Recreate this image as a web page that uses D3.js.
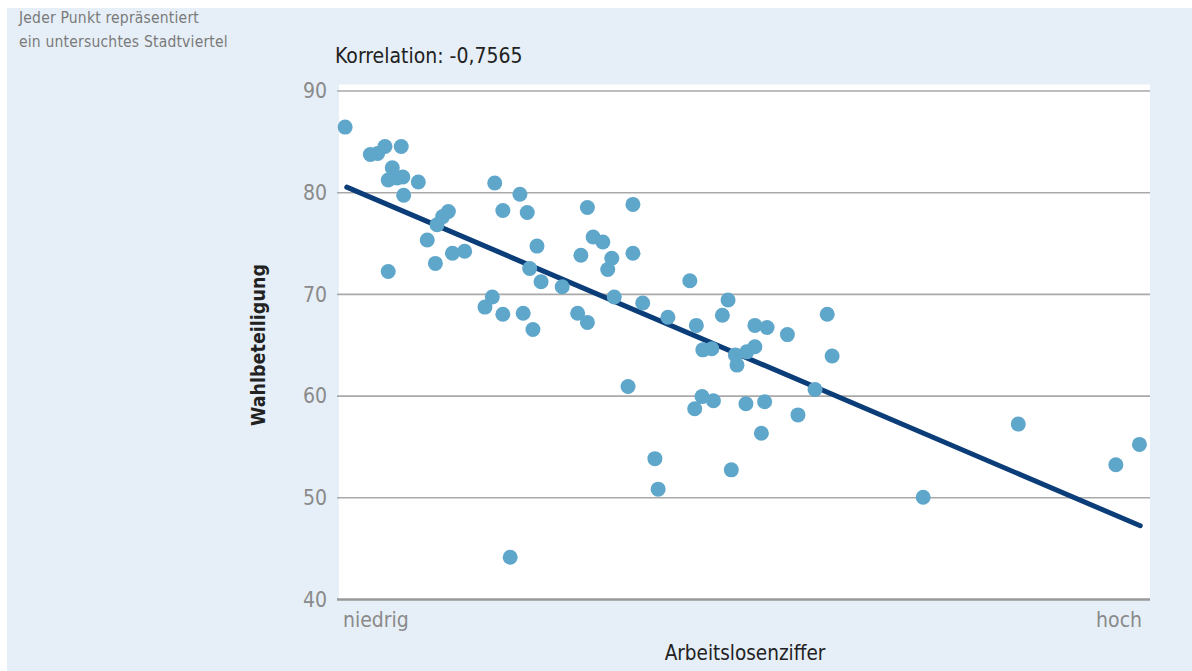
<!DOCTYPE html>
<html><head><meta charset="utf-8">
<script src="https://cdn.jsdelivr.net/npm/d3@7"></script>
<style>
html,body{margin:0;padding:0;background:#fff;}
svg{display:block;}
text{font-family:"DejaVu Sans Condensed","DejaVu Sans","Liberation Sans Narrow",sans-serif;}
</style></head>
<body>
<script>
// Arbeitslosenziffer (relative position 0 = niedrig, 100 = hoch) and Wahlbeteiligung (%)
const unemployment = [1.0,4.1,5.0,5.9,7.9,6.8,6.3,8.1,7.4,10.0,8.2,13.7,13.0,12.3,11.1,14.2,15.7,12.1,6.3,19.4,22.5,20.4,23.4,24.6,23.7,25.1,27.7,19.1,18.2,20.4,22.9,24.1,30.8,36.4,31.5,32.7,30.0,33.8,33.3,36.4,34.1,37.6,29.6,30.8,40.7,43.4,44.2,45.0,46.1,35.8,48.1,47.4,51.4,52.9,55.4,60.3,49.0,49.2,50.4,51.4,60.9,58.8,44.9,44.0,46.3,50.3,52.6,56.7,52.2,48.5,39.1,39.5,21.3,72.1,83.8,95.8,98.7];
const turnout = [86.4,83.7,83.8,84.5,84.5,82.4,81.2,81.5,81.4,81.0,79.7,78.1,77.6,76.8,75.3,74.0,74.2,73.0,72.2,80.9,79.8,78.2,78.0,74.7,72.5,71.2,70.7,69.7,68.7,68.0,68.1,66.5,78.5,78.8,75.6,75.1,73.8,73.5,72.4,74.0,69.7,69.1,68.1,67.2,67.7,71.3,66.9,64.5,64.6,60.9,69.4,67.9,66.9,66.7,66.0,68.0,64.0,63.0,64.3,64.8,63.9,60.6,59.9,58.7,59.5,59.2,59.4,58.1,56.3,52.7,53.8,50.8,44.1,50.0,57.2,53.2,55.2];
const trendX = [1.2, 98.8];
const trendY = [80.5, 47.2];
const yTicks = [40,50,60,70,80,90];
const xLabels = ["niedrig","hoch"];
const title = "Korrelation: -0,7565";
const note = ["Jeder Punkt repräsentiert","ein untersuchtes Stadtviertel"];
const yTitle = "Wahlbeteiligung";
const xTitle = "Arbeitslosenziffer";

const W = 1192, H = 671;
const svg = d3.select("body").append("svg").attr("width", W).attr("height", H);
svg.append("rect").attr("x",0).attr("y",0).attr("width",W).attr("height",H).attr("fill","#fff");
svg.append("rect").attr("x",7).attr("y",8).attr("width",W-7).attr("height",H-8).attr("fill","#e6eff7");

const x = d3.scaleLinear().domain([0,100]).range([337,1150]);
const y = d3.scaleLinear().domain([40,90]).range([599,90.5]);

svg.append("rect").attr("x",x(0)+2).attr("y",y(90)-6).attr("width",x(100)-x(0)-2).attr("height",y(40)-y(90)+6).attr("fill","#fff");

const yAxis = d3.axisLeft(y).tickValues(yTicks).tickSize(-(x(100)-x(0))).tickPadding(10).tickFormat(d3.format("d"));
const gy = svg.append("g").attr("transform",`translate(${x(0)},0)`).call(yAxis);
gy.select(".domain").remove();
gy.selectAll(".tick line").attr("stroke","#a9a9a9").attr("stroke-width",1.6);
gy.selectAll(".tick").filter(d=>d===40).select("line").attr("stroke","#999").attr("stroke-width",2.4);
gy.selectAll(".tick text").attr("fill","#8a8a8a").attr("font-size",21).attr("x",-10).attr("dy","0.35em");

// trend line
svg.append("line")
  .attr("x1",x(trendX[0])).attr("y1",y(trendY[0]))
  .attr("x2",x(trendX[1])).attr("y2",y(trendY[1]))
  .attr("stroke","#0b3d78").attr("stroke-width",5).attr("stroke-linecap","round");

const pts = unemployment.map((u,i)=>({u, t:turnout[i]}));
svg.append("g").selectAll("circle").data(pts).join("circle")
  .attr("cx",d=>x(d.u)).attr("cy",d=>y(d.t)).attr("r",7.5).attr("fill","#5fa6cb");

// x labels
svg.append("text").attr("x",x(0)+6).attr("y",627).attr("font-size",21).attr("fill","#8a8a8a").text(xLabels[0]);
svg.append("text").attr("x",x(100)-8).attr("y",627).attr("text-anchor","end").attr("font-size",21).attr("fill","#8a8a8a").text(xLabels[1]);
svg.append("text").attr("x",745).attr("y",660).attr("text-anchor","middle").attr("font-size",20.5).attr("fill","#222").text(xTitle);

// y title
svg.append("text").attr("transform","translate(265,345) rotate(-90)").attr("text-anchor","middle")
  .attr("font-size",19.5).attr("font-weight","bold").attr("fill","#222").text(yTitle);

// title
svg.append("text").attr("x",335).attr("y",63).attr("font-size",21).attr("fill","#222").text(title);

// note
svg.selectAll("text.note").data(note).join("text").attr("class","note")
  .attr("x",19).attr("y",(d,i)=>23+i*24).attr("font-size",15.5).attr("letter-spacing",0.2).attr("fill","#7a7a7a").text(d=>d);
</script>
</body></html>
